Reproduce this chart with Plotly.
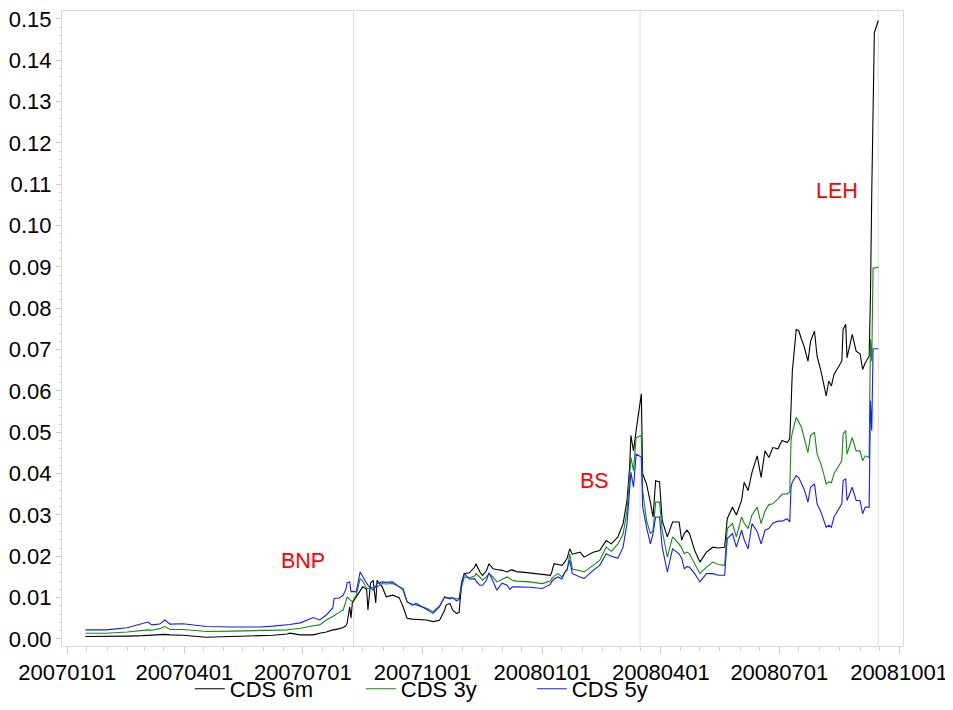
import plotly.graph_objects as go

dates = [
    "2007-01-15", "2007-01-31", "2007-02-16", "2007-02-28", "2007-03-04", "2007-03-07",
    "2007-03-13", "2007-03-17", "2007-03-21", "2007-03-31", "2007-04-18", "2007-05-08",
    "2007-05-29", "2007-06-08", "2007-06-19", "2007-06-21", "2007-06-29", "2007-07-09",
    "2007-07-14", "2007-07-19", "2007-07-24", "2007-07-25", "2007-07-29", "2007-08-01",
    "2007-08-03", "2007-08-04", "2007-08-06", "2007-08-07", "2007-08-08", "2007-08-11",
    "2007-08-14", "2007-08-16", "2007-08-19", "2007-08-20", "2007-08-22", "2007-08-24",
    "2007-08-26", "2007-08-27", "2007-08-31", "2007-09-03", "2007-09-08", "2007-09-13",
    "2007-09-16", "2007-09-19", "2007-09-23", "2007-09-26", "2007-10-04", "2007-10-09",
    "2007-10-14", "2007-10-18", "2007-10-19", "2007-10-22", "2007-10-24", "2007-10-27",
    "2007-10-29", "2007-10-31", "2007-11-02", "2007-11-06", "2007-11-10", "2007-11-11",
    "2007-11-14", "2007-11-16", "2007-11-19", "2007-11-21", "2007-11-24", "2007-11-27",
    "2007-12-01", "2007-12-05", "2007-12-07", "2007-12-09", "2007-12-12", "2007-12-22",
    "2008-01-01", "2008-01-07", "2008-01-08", "2008-01-10", "2008-01-13", "2008-01-16",
    "2008-01-18", "2008-01-20", "2008-01-22", "2008-01-24", "2008-01-30", "2008-02-02",
    "2008-02-09", "2008-02-14", "2008-02-19", "2008-02-23", "2008-02-28", "2008-03-03",
    "2008-03-06", "2008-03-08", "2008-03-09", "2008-03-11", "2008-03-13", "2008-03-17",
    "2008-03-18", "2008-03-21", "2008-03-24", "2008-03-26", "2008-03-28", "2008-03-31",
    "2008-04-02", "2008-04-06", "2008-04-10", "2008-04-15", "2008-04-17", "2008-04-19",
    "2008-04-21", "2008-04-23", "2008-04-27", "2008-05-01", "2008-05-06", "2008-05-11",
    "2008-05-15", "2008-05-20", "2008-05-22", "2008-05-26", "2008-05-29", "2008-06-02",
    "2008-06-04", "2008-06-07", "2008-06-10", "2008-06-14", "2008-06-17", "2008-06-20",
    "2008-06-23", "2008-06-26", "2008-06-30", "2008-07-03", "2008-07-07", "2008-07-09",
    "2008-07-10", "2008-07-11", "2008-07-14", "2008-07-16", "2008-07-18", "2008-07-20",
    "2008-07-23", "2008-07-25", "2008-07-28", "2008-07-30", "2008-08-02", "2008-08-04",
    "2008-08-06", "2008-08-08", "2008-08-10", "2008-08-12", "2008-08-18", "2008-08-19",
    "2008-08-21", "2008-08-22", "2008-08-26", "2008-08-29", "2008-09-01", "2008-09-03",
    "2008-09-05", "2008-09-08", "2008-09-09", "2008-09-10", "2008-09-11", "2008-09-12",
    "2008-09-15",
]

cds_6m = [
    0.0006, 0.0006, 0.0007, 0.0008, 0.0009, 0.0008,
    0.0010, 0.0011, 0.0010, 0.0009, 0.0004, 0.0006,
    0.0007, 0.0009, 0.0012, 0.0014, 0.0010, 0.0010,
    0.0014, 0.0017, 0.0022, 0.0022, 0.0025, 0.0028,
    0.0032, 0.0038, 0.0078, 0.0050, 0.0087, 0.0102,
    0.0118, 0.0126, 0.0120, 0.0070, 0.0135, 0.0142,
    0.0087, 0.0142, 0.0126, 0.0102, 0.0106, 0.0100,
    0.0078, 0.0050, 0.0048, 0.0047, 0.0046, 0.0042,
    0.0045, 0.0070, 0.0082, 0.0086, 0.0070, 0.0062,
    0.0064, 0.0134, 0.0158, 0.0160, 0.0174, 0.0182,
    0.0162, 0.0154, 0.0165, 0.0182, 0.0170, 0.0168,
    0.0166, 0.0162, 0.0166, 0.0167, 0.0163, 0.0160,
    0.0157, 0.0154, 0.0160, 0.0182, 0.0180, 0.0178,
    0.0185, 0.0195, 0.0218, 0.0205, 0.0210, 0.0198,
    0.0210, 0.0214, 0.0238, 0.0230, 0.0247, 0.0279,
    0.0335, 0.0415, 0.0492, 0.0455, 0.0504, 0.0593,
    0.0400, 0.0375, 0.0330, 0.0295, 0.0383, 0.0380,
    0.0287, 0.0247, 0.0283, 0.0283, 0.0239, 0.0255,
    0.0263, 0.0255, 0.0214, 0.0186, 0.0210, 0.0222,
    0.0220, 0.0222, 0.0291, 0.0319, 0.0300, 0.0335,
    0.0379, 0.0359, 0.0403, 0.0443, 0.0391, 0.0455,
    0.0439, 0.0463, 0.0460, 0.0480, 0.0475, 0.0484,
    0.0560, 0.0648, 0.0749, 0.0745, 0.0725, 0.0708,
    0.0672, 0.0720, 0.0745, 0.0684, 0.0648, 0.0616,
    0.0588, 0.0624, 0.0612, 0.0640, 0.0672, 0.0749,
    0.0761, 0.0680, 0.0737, 0.0696, 0.0690, 0.0652,
    0.0668, 0.0684, 0.0830, 0.1080, 0.1300, 0.1467,
    0.1496,
]

cds_3y = [
    0.0014, 0.0014, 0.0017, 0.0022, 0.0022, 0.0021,
    0.0025, 0.0030, 0.0023, 0.0023, 0.0018, 0.0019,
    0.0020, 0.0020, 0.0022, 0.0023, 0.0026, 0.0032,
    0.0034, 0.0046, 0.0054, 0.0056, 0.0065, 0.0070,
    0.0090, 0.0102, 0.0095, 0.0092, 0.0090, 0.0106,
    0.0146, 0.0140, 0.0122, 0.0122, 0.0123, 0.0124,
    0.0125, 0.0126, 0.0134, 0.0133, 0.0134, 0.0126,
    0.0118, 0.0090, 0.0084, 0.0082, 0.0074, 0.0066,
    0.0080, 0.0102, 0.0100, 0.0100, 0.0099, 0.0097,
    0.0097, 0.0126, 0.0150, 0.0148, 0.0152, 0.0158,
    0.0150, 0.0142, 0.0150, 0.0158, 0.0150, 0.0138,
    0.0145, 0.0150, 0.0146, 0.0142, 0.0140, 0.0138,
    0.0134, 0.0140, 0.0145, 0.0152, 0.0158, 0.0150,
    0.0160, 0.0166, 0.0206, 0.0169, 0.0165, 0.0162,
    0.0178, 0.0190, 0.0222, 0.0212, 0.0230, 0.0254,
    0.0310, 0.0390, 0.0439, 0.0407, 0.0487, 0.0492,
    0.0360, 0.0287, 0.0255, 0.0262, 0.0331, 0.0331,
    0.0263, 0.0198, 0.0247, 0.0230, 0.0220, 0.0206,
    0.0210, 0.0206, 0.0182, 0.0158, 0.0174, 0.0186,
    0.0180, 0.0178, 0.0267, 0.0279, 0.0247, 0.0295,
    0.0280, 0.0267, 0.0300, 0.0319, 0.0279, 0.0310,
    0.0325, 0.0327, 0.0339, 0.0350, 0.0351, 0.0355,
    0.0480, 0.0500, 0.0536, 0.0525, 0.0512, 0.0487,
    0.0451, 0.0492, 0.0500, 0.0447, 0.0423, 0.0400,
    0.0375, 0.0380, 0.0378, 0.0400, 0.0431, 0.0496,
    0.0504, 0.0447, 0.0487, 0.0455, 0.0455, 0.0431,
    0.0443, 0.0439, 0.0725, 0.0672, 0.0897, 0.0897,
    0.0900,
]

cds_5y = [
    0.0022, 0.0022, 0.0027, 0.0038, 0.0041, 0.0034,
    0.0036, 0.0046, 0.0036, 0.0037, 0.0030, 0.0029,
    0.0029, 0.0031, 0.0033, 0.0035, 0.0039, 0.0052,
    0.0046, 0.0058, 0.0075, 0.0098, 0.0099, 0.0106,
    0.0120, 0.0136, 0.0138, 0.0114, 0.0115, 0.0114,
    0.0162, 0.0150, 0.0135, 0.0130, 0.0124, 0.0118,
    0.0128, 0.0134, 0.0138, 0.0137, 0.0138, 0.0126,
    0.0122, 0.0090, 0.0082, 0.0086, 0.0072, 0.0062,
    0.0078, 0.0102, 0.0100, 0.0097, 0.0100, 0.0092,
    0.0095, 0.0138, 0.0158, 0.0145, 0.0146, 0.0140,
    0.0130, 0.0130, 0.0142, 0.0160, 0.0140, 0.0118,
    0.0135, 0.0130, 0.0120, 0.0126, 0.0126, 0.0125,
    0.0122, 0.0132, 0.0138, 0.0145, 0.0150, 0.0145,
    0.0160, 0.0170, 0.0190, 0.0158, 0.0150, 0.0146,
    0.0166, 0.0178, 0.0206, 0.0200, 0.0195, 0.0222,
    0.0279, 0.0360, 0.0403, 0.0367, 0.0447, 0.0440,
    0.0320, 0.0270, 0.0230, 0.0255, 0.0295, 0.0295,
    0.0222, 0.0162, 0.0218, 0.0206, 0.0195, 0.0170,
    0.0175, 0.0174, 0.0158, 0.0138, 0.0158, 0.0158,
    0.0154, 0.0154, 0.0243, 0.0255, 0.0222, 0.0263,
    0.0240, 0.0218, 0.0279, 0.0260, 0.0230, 0.0263,
    0.0267, 0.0280, 0.0285, 0.0285, 0.0291, 0.0283,
    0.0367, 0.0380, 0.0395, 0.0390, 0.0375, 0.0363,
    0.0331, 0.0367, 0.0375, 0.0327, 0.0307, 0.0287,
    0.0270, 0.0275, 0.0270, 0.0295, 0.0327, 0.0383,
    0.0387, 0.0335, 0.0367, 0.0335, 0.0335, 0.0303,
    0.0319, 0.0319, 0.0576, 0.0504, 0.0702, 0.0702,
    0.0702,
]

event_dates = ["2007-08-09", "2008-03-16", "2008-09-15"]
event_labels = ["BNP", "BS", "LEH"]
label_dates = ["2007-07-01", "2008-02-10", "2008-08-14"]
label_values = [0.0188, 0.0383, 0.1084]

tick_dates = ["2007-01-01", "2007-04-01", "2007-07-01", "2007-10-01",
              "2008-01-01", "2008-04-01", "2008-07-01", "2008-10-01"]
minor_dates = [f"{y}-{m:02d}-{d:02d}" for y in (2007, 2008) for m in range(1, 13) for d in (1, 16)]

font = "Liberation Sans, Arial, sans-serif"

fig = go.Figure()
fig.add_trace(go.Scatter(x=dates, y=cds_6m, mode="lines", name="CDS 6m",
                         line=dict(color="#000000", width=1.1)))
fig.add_trace(go.Scatter(x=dates, y=cds_3y, mode="lines", name="CDS 3y",
                         line=dict(color="#138a13", width=1.1)))
fig.add_trace(go.Scatter(x=dates, y=cds_5y, mode="lines", name="CDS 5y",
                         line=dict(color="#1a1aff", width=1.1)))

for d in event_dates:
    fig.add_shape(type="line", xref="x", yref="paper", x0=d, x1=d, y0=0, y1=1,
                  line=dict(color="#dcdcdc", width=1), layer="below")

for lab, d, v in zip(event_labels, label_dates, label_values):
    fig.add_annotation(x=d, y=v, text=lab, showarrow=False,
                       font=dict(family=font, size=21.5, color="#ff0000"))

# the page body adds an 8px margin, so the figure is a bit smaller than the window
fig.update_layout(
    width=945, height=702,
    margin=dict(l=54, r=50, t=3, b=64, autoexpand=False),
    paper_bgcolor="white", plot_bgcolor="white",
    font=dict(family=font, size=22, color="#000000"),
    showlegend=True,
    legend=dict(orientation="h", x=0.152, xanchor="left",
                yref="container", y=0.030, yanchor="middle",
                font=dict(size=22), entrywidth=126, bgcolor="rgba(0,0,0,0)"),
)

fig.update_xaxes(
    range=["2006-12-28", "2008-10-04"], automargin=False, ticklabeloverflow="allow",
    tickvals=tick_dates, tickformat="%Y%m%d",
    ticks="outside", ticklen=7, tickcolor="#c8c8c8",
    showgrid=False, zeroline=False,
    showline=True, linecolor="#d9d9d9", mirror=True,
    minor=dict(tickvals=minor_dates, ticks="outside", ticklen=4, tickcolor="#d0d0d0"),
)
fig.update_yaxes(
    range=[-0.0017, 0.1519], dtick=0.01, tick0=0, tickformat=".2f",
    automargin=False, ticklabeloverflow="allow",
    ticks="outside", ticklen=5, tickcolor="#c8c8c8",
    showgrid=False, zeroline=False,
    showline=True, linecolor="#d9d9d9", mirror=True,
    minor=dict(dtick=0.002, ticks="outside", ticklen=3, tickcolor="#d8d8d8"),
)

fig.write_html("out.html")
